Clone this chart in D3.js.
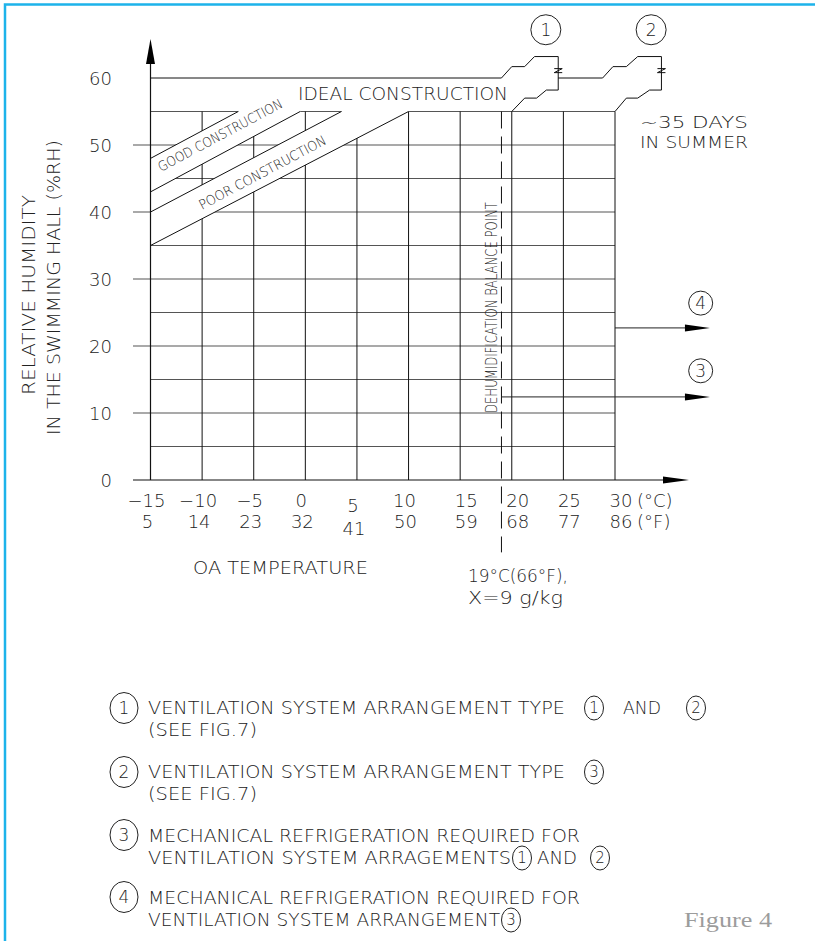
<!DOCTYPE html>
<html><head><meta charset="utf-8">
<script src="https://cdn.jsdelivr.net/npm/d3@7"></script>
<style>
html,body{margin:0;padding:0;background:#fff;}
svg{display:block;}
text{font-family:"DejaVu Sans",sans-serif;font-weight:200;fill:#222;}
text.fig{font-family:"Liberation Serif","Times New Roman",Tinos,serif;font-weight:400;fill:#9c9c9c;}
</style></head><body>
<svg id="c" width="815" height="941"></svg>
<script>
// ---------- data ----------
const tempC = [-15, -10, -5, 0, 5, 10, 15, 20, 25, 30];
const tempF = [5, 14, 23, 32, 41, 50, 59, 68, 77, 86];
const rhTicks = [0, 10, 20, 30, 40, 50, 60];
const rhGrid = [5, 10, 15, 20, 25, 30, 35, 40, 45, 50, 55];
const gridTemps = [-10, -5, 0, 5, 10, 15, 20, 25, 30];
const goodUpper = [[-15, 48], [-6.5, 55]];
const goodLower = [[-15, 43], [-0.5, 55]];
const poorUpper = [[-15, 40], [3.5, 55]];
const poorLower = [[-15, 35], [10, 55]];
const balancePointC = 19;
const idealRH = 60;
const break1 = [[19, 60], [20, 61.7], [21.25, 61.7], [22.2, 63.2], [24.5, 63.2], [24.5, 58.2], [23.35, 58.2], [22.4, 57], [21.25, 57], [20, 55]];
const break2 = [[28.8, 60], [29.8, 61.7], [31.1, 61.7], [32.2, 63.2], [34.5, 63.2], [34.5, 58.2], [33.35, 58.2], [32.2, 57], [31.1, 57], [30, 55]];
const refrigArrows = [{ id: "4", fromC: 30, toC: 39.2, rh: 22.7 }, { id: "3", fromC: 19, toC: 39.2, rh: 12.4 }];
const markers = [{ id: "1", c: 23.3, rh: 67.2 }, { id: "2", c: 33.5, rh: 67.2 }, { id: "4", c: 38.3, rh: 26.4 }, { id: "3", c: 38.3, rh: 16.3 }];
const legendTexts = [
  ["VENTILATION SYSTEM ARRANGEMENT TYPE", "AND", "(SEE FIG.7)"],
  ["VENTILATION SYSTEM ARRANGEMENT TYPE", "(SEE FIG.7)"],
  ["MECHANICAL REFRIGERATION REQUIRED FOR", "VENTILATION SYSTEM ARRAGEMENTS", "AND"],
  ["MECHANICAL REFRIGERATION REQUIRED FOR", "VENTILATION SYSTEM ARRANGEMENT"]
];

// ---------- scales ----------
const svg = d3.select("#c");
const x = d3.scaleLinear().domain([-15, 30]).range([150.5, 615]);
const y = d3.scaleLinear().domain([0, 60]).range([480, 78]);
const line = d3.line().x(d => x(d[0])).y(d => y(d[1]));

// border
svg.append("path").attr("d", "M5,941 V4.5 H815").attr("fill", "none").attr("stroke", "#1db3ea").attr("stroke-width", 2.5);

// band clip (grid removed inside construction bands)
function ext(seg, top) {
  const [a, b] = seg; const s = (b[1] - a[1]) / (b[0] - a[0]);
  return [a, [b[0] + (top - b[1]) / s, top]];
}
function bandPoly(u, l) {
  const U = ext(u, 56), L = ext(l, 56);
  return [U[0], U[1], L[1], L[0]];
}
const defs = svg.append("defs");
const cp = defs.append("clipPath").attr("id", "gridclip");
const polyD = p => "M" + p.map(d => x(d[0]) + "," + y(d[1])).join("L") + "Z";
cp.append("path").attr("clip-rule", "evenodd")
  .attr("d", "M0,0H815V941H0Z" + polyD(bandPoly(goodUpper, goodLower)) + polyD(bandPoly(poorUpper, poorLower)));

const grid = svg.append("g").attr("clip-path", "url(#gridclip)");
grid.selectAll("line.h").data(rhGrid).join("line")
  .attr("x1", d => d % 10 === 0 ? 133 : x(-15)).attr("x2", x(30))
  .attr("y1", d => y(d)).attr("y2", d => y(d))
  .attr("stroke", "#555").attr("stroke-width", 1.1);
grid.selectAll("line.v").data(gridTemps).join("line")
  .attr("x1", d => x(d)).attr("x2", d => x(d))
  .attr("y1", y(0)).attr("y2", y(55))
  .attr("stroke", "#111").attr("stroke-width", 1);

// band boundary lines
[goodUpper, goodLower, poorUpper, poorLower].forEach(s => {
  svg.append("path").attr("d", line(s)).attr("fill", "none").attr("stroke", "#111").attr("stroke-width", 1);
});

// axes
svg.append("line").attr("x1", 133).attr("x2", 665).attr("y1", y(0)).attr("y2", y(0)).attr("stroke", "#111").attr("stroke-width", 1.2);
svg.append("path").attr("d", `M663,${y(0) - 3.5} L689,${y(0)} L663,${y(0) + 3.5}Z`).attr("fill", "#000");
svg.append("line").attr("x1", x(-15)).attr("x2", x(-15)).attr("y1", y(0)).attr("y2", 62).attr("stroke", "#111").attr("stroke-width", 1.2);
svg.append("path").attr("d", `M${x(-15) - 4.5},64 L${x(-15)},39 L${x(-15) + 4.5},64Z`).attr("fill", "#000");

// ideal line and break symbols
svg.append("path").attr("d", line([[-15, idealRH], [balancePointC, idealRH]])).attr("fill", "none").attr("stroke", "#111");
svg.append("path").attr("d", line(break1)).attr("fill", "none").attr("stroke", "#111");
svg.append("path").attr("d", line([[break1[4][0], idealRH], [break2[0][0], idealRH]])).attr("fill", "none").attr("stroke", "#111");
svg.append("path").attr("d", line(break2)).attr("fill", "none").attr("stroke", "#111");
[break1[4][0], break2[4][0]].forEach(t => {
  const cx = x(t);
  svg.append("path").attr("d", `M${cx - 4},${y(61.4)} H${cx + 4} L${cx - 4},${y(60.8)} H${cx + 4}`).attr("fill", "none").attr("stroke", "#111");
});

// balance point dashed line
svg.append("line").attr("x1", x(balancePointC)).attr("x2", x(balancePointC))
  .attr("y1", y(55)).attr("y2", y(-10.8))
  .attr("stroke", "#111").attr("stroke-dasharray", "17,8");

// refrigeration arrows
refrigArrows.forEach(a => {
  const yy = y(a.rh);
  svg.append("line").attr("x1", x(a.fromC)).attr("x2", x(a.toC) - 20).attr("y1", yy).attr("y2", yy).attr("stroke", "#222");
  svg.append("path").attr("d", `M${x(a.toC) - 25},${yy - 3.5} L${x(a.toC)},${yy} L${x(a.toC) - 25},${yy + 3.5}Z`).attr("fill", "#000");
});

// marker circles
function circ(cx, cy, rx, ry, label, fs) {
  svg.append("ellipse").attr("cx", cx).attr("cy", cy).attr("rx", rx).attr("ry", ry).attr("fill", "#fff").attr("stroke", "#222").attr("stroke-width", 1);
  svg.append("text").attr("x", cx).attr("y", cy + fs * 0.36).attr("text-anchor", "middle").attr("font-size", fs).text(label);
}
markers.forEach(m => circ(x(m.c), y(m.rh), m.id === "1" || m.id === "2" ? 15 : 12, m.id === "1" || m.id === "2" ? 15 : 12, m.id, 17));

// tick labels
svg.selectAll("text.yt").data(rhTicks).join("text").attr("class", "yt")
  .attr("x", 112).attr("y", d => y(d) + 7).attr("text-anchor", "end").attr("font-size", 18).text(d => d);
svg.selectAll("text.xc").data(tempC).join("text").attr("class", "xc")
  .attr("x", d => x(d) + (d >= 15 ? 6 : -4)).attr("y", d => d === 5 ? 512 : 507)
  .attr("text-anchor", "middle").attr("font-size", 18).text(d => d < 0 ? "\u2212" + Math.abs(d) : d);
svg.selectAll("text.xf").data(tempF).join("text").attr("class", "xf")
  .attr("x", (d, i) => x(tempC[i]) + (tempC[i] >= 15 ? 6 : -3)).attr("y", d => d === 41 ? 535 : 528)
  .attr("text-anchor", "middle").attr("font-size", 18).text(d => d);
svg.append("text").attr("x", 637).attr("y", 507).attr("font-size", 18).text("(°C)");
svg.append("text").attr("x", 637).attr("y", 528).attr("font-size", 18).text("(°F)");

// axis titles
function rtext(tx, ty, str, len, fs) {
  svg.append("text").attr("transform", `translate(${tx},${ty}) rotate(-90)`).attr("font-size", fs)
    .attr("textLength", len).attr("lengthAdjust", "spacingAndGlyphs").text(str);
}
rtext(35, 395, "RELATIVE HUMIDITY", 200, 18);
rtext(60, 435, "IN THE SWIMMING HALL (%RH)", 295, 18);
rtext(497, 413, "DEHUMIDIFICATION BALANCE POINT", 211, 16.5);

function htext(tx, ty, str, len, fs, rot) {
  const t = svg.append("text").attr("font-size", fs).text(str);
  if (rot) t.attr("transform", `translate(${tx},${ty}) rotate(${rot})`);
  else t.attr("x", tx).attr("y", ty);
  if (len) t.attr("textLength", len).attr("lengthAdjust", "spacingAndGlyphs");
  return t;
}
htext(193, 574, "OA TEMPERATURE", 175, 18);
htext(468, 582, "19°C(66°F),", 100, 18);
htext(468, 604, "X=9  g/kg", 95, 18);
htext(298, 100, "IDEAL CONSTRUCTION", 210, 18);
htext(161, 172, "GOOD CONSTRUCTION", 139, 13.5, -28);
htext(202, 210, "POOR CONSTRUCTION", 142, 13.5, -28);
htext(640, 128, "~35 DAYS", 108, 15.5);
htext(640, 148, "IN SUMMER", 108, 15.5);

// legend
const L = legendTexts;
const rows = [
  { cy: 708, lines: [[{ t: L[0][0], x: 148, w: 417, b: 714 }, { c: "1", x: 594, b: 714 }, { t: L[0][1], x: 623, w: 38, b: 714 }, { c: "2", x: 696, b: 714 }], [{ t: L[0][2], x: 148, w: 109, b: 736 }]] },
  { cy: 772, lines: [[{ t: L[1][0], x: 148, w: 417, b: 778 }, { c: "3", x: 594, b: 778 }], [{ t: L[1][1], x: 148, w: 109, b: 800 }]] },
  { cy: 835, lines: [[{ t: L[2][0], x: 148, w: 432, b: 842 }], [{ t: L[2][1], x: 148, w: 363, b: 864 }, { c: "1", x: 522, b: 864 }, { t: L[2][2], x: 537, w: 40, b: 864 }, { c: "2", x: 600, b: 864 }]] },
  { cy: 897, lines: [[{ t: L[3][0], x: 148, w: 432, b: 904 }], [{ t: L[3][1], x: 148, w: 352, b: 926 }, { c: "3", x: 511, b: 926 }]] }
];
rows.forEach((r, i) => {
  circ(124, r.cy, 14, 15.5, String(i + 1), 17);
  r.lines.forEach(ln => ln.forEach(s => {
    if (s.t) htext(s.x, s.b, s.t, s.w, 18);
    else circ(s.x, s.b - 6, 9.5, 12, s.c, 15);
  }));
});
svg.append("text").attr("class", "fig").attr("x", 684).attr("y", 927).attr("font-size", 22)
  .attr("textLength", 88).attr("lengthAdjust", "spacingAndGlyphs").text("Figure 4");
</script>
</body></html>
